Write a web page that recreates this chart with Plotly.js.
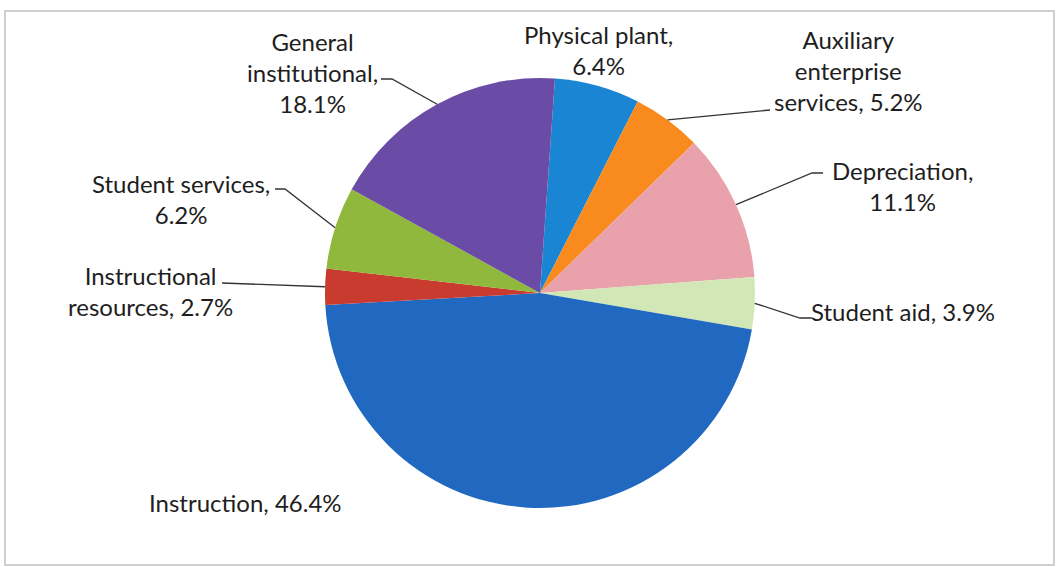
<!DOCTYPE html>
<html>
<head>
<meta charset="utf-8">
<script src="https://cdn.plot.ly/plotly-3.0.1.min.js"></script>
<style>
  html, body { margin: 0; padding: 0; background: #ffffff; }
  #chart { width: 1060px; height: 567px; }
</style>
</head>
<body>
<div id="chart"></div>
<script>
// ---- data (clockwise from top) ----
const categories = ["Physical plant", "Auxiliary enterprise services", "Depreciation", "Student aid",
                    "Instruction", "Instructional resources", "Student services", "General institutional"];
const shares = [6.4, 5.2, 11.1, 3.9, 46.4, 2.7, 6.2, 18.1];
const colors = ["#1a86d3", "#f98b1e", "#e9a2ab", "#d2e7b6", "#2168c0", "#c93a2f", "#8fb83c", "#6a4ca6"];
// how each label is broken into lines (display text)
const labelText = ["Physical plant,<br>6.4%", "Auxiliary<br>enterprise<br>services, 5.2%", "Depreciation,<br>11.1%",
                   "Student aid, 3.9%", "Instruction, 46.4%", "Instructional<br>resources, 2.7%",
                   "Student services,<br>6.2%", "General<br>institutional,<br>18.1%"];

// ---- layout geometry (pixels) ----
const W = 1060, H = 567;
const cx = 540, cy = 293, R = 215;
const rot = 4; // degrees clockwise from 12 o'clock
// label centers (px) and leader start points at label side (null = no leader)
const labelPos = [[598, 50], [848, 70], [902, 186], [903, 311], [245, 502], [150, 291], [181, 199], [312, 73]];
const leaderStart = [null, [[770, 110]], [[823, 173], [812, 173]], [[812, 318], [800, 318]], null,
                     [[222, 283]], [[275, 189], [285, 189]], [[381, 79], [392, 79]]];

const px = x => x / W;
const py = y => 1 - y / H;

const total = shares.reduce((a, b) => a + b, 0);
let cum = 0;
const shapes = [];
const annotations = [];
shares.forEach((v, i) => {
  const mid = rot + (cum + v / 2) / total * 360;
  cum += v;
  const a = mid * Math.PI / 180;
  const ex = cx + R * Math.sin(a), ey = cy - R * Math.cos(a);
  if (leaderStart[i]) {
    const pts = leaderStart[i].concat([[ex, ey]]);
    let path = "M" + px(pts[0][0]) + "," + py(pts[0][1]);
    for (let k = 1; k < pts.length; k++) path += " L" + px(pts[k][0]) + "," + py(pts[k][1]);
    shapes.push({type: "path", xref: "paper", yref: "paper", path: path,
                 line: {color: "#333333", width: 1.3}});
  }
  annotations.push({
    xref: "paper", yref: "paper", x: px(labelPos[i][0]), y: py(labelPos[i][1]),
    xanchor: "center", yanchor: "middle", align: "center", showarrow: false,
    text: labelText[i], font: {family: "Lato, 'Open Sans', sans-serif", size: 24, color: "#1e1e1e"}
  });
});

// outer frame
shapes.unshift({type: "rect", xref: "paper", yref: "paper",
  x0: px(5), x1: px(1054), y0: py(565), y1: py(11),
  line: {color: "#cfcfcf", width: 2}, fillcolor: "rgba(0,0,0,0)", layer: "below"});

const trace = {
  type: "pie",
  labels: categories,
  values: shares,
  sort: false,
  direction: "clockwise",
  rotation: rot,
  marker: {colors: colors, line: {width: 0}},
  textinfo: "none",
  hoverinfo: "label+percent",
  showlegend: false,
  domain: {x: [px(cx - R), px(cx + R)], y: [py(cy + R), py(cy - R)]}
};

const layout = {
  width: W, height: H,
  margin: {l: 0, r: 0, t: 0, b: 0},
  paper_bgcolor: "#ffffff",
  showlegend: false,
  shapes: shapes,
  annotations: annotations
};

Plotly.newPlot("chart", [trace], layout, {displayModeBar: false, staticPlot: true});
</script>
</body>
</html>
